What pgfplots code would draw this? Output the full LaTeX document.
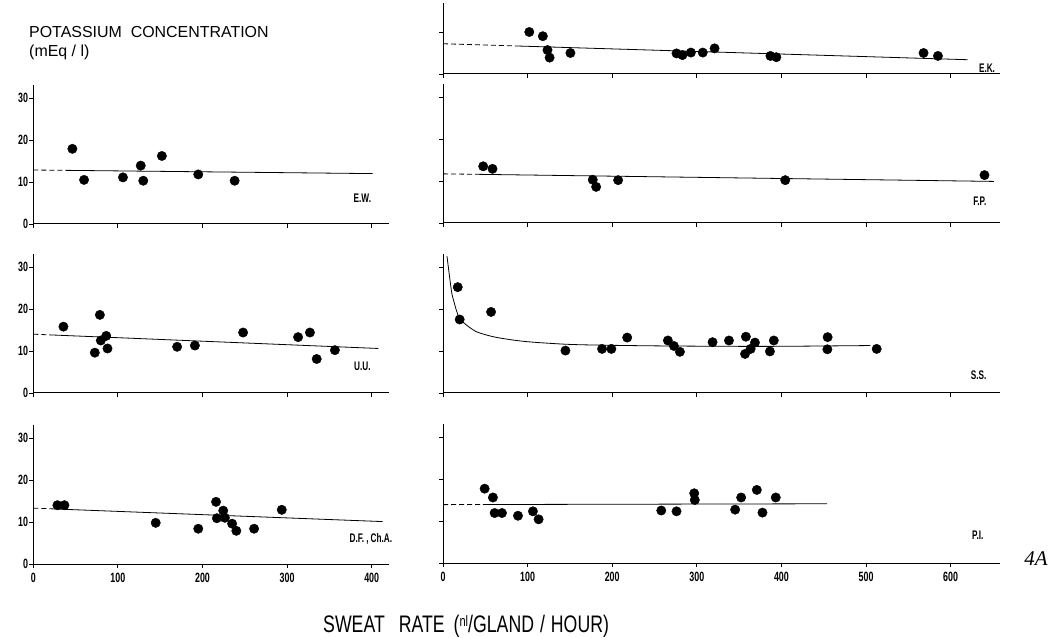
\documentclass[border=0pt]{standalone}
\usepackage{pgfplots}
\pgfplotsset{compat=1.18}
\usepackage{fontspec}
\setmainfont{Liberation Sans}
\newfontfamily\condf[FakeStretch=0.66]{Liberation Sans}
\newfontfamily\condw[FakeStretch=0.74]{Liberation Sans}
\newfontfamily\titlef{Liberation Sans}
\newfontfamily\serifi{Liberation Serif}

\tikzset{
  lab/.style={font=\condf\bfseries\fontsize{12.5}{12.5}\selectfont},
  fitl/.style={black, line width=0.8bp},
  fitdl/.style={black, line width=0.8bp, dash pattern=on 5bp off 3bp},
}
\pgfplotsset{
  panel/.style={
    scale only axis, clip=false,
    axis x line=bottom, axis y line=left,
    axis line style={-, line width=1bp, black},
    xmin=0, ymin=0, ymax=33,
    height=138.6bp,
    ytick={0,10,20,30},
    tick align=outside, major tick length=4bp,
    tick style={black, line width=0.8bp},
    /pgf/number format/assume math mode=true,
    ticklabel style={font=\condf\bfseries\fontsize{13.5}{13.5}\selectfont, inner sep=1bp},
    xticklabel style={yshift=-4bp},
  },
  leftcol/.style={panel, xmin=0, xmax=420, width=355.3bp, xtick={0,100,200,300,400}},
  rightcol/.style={panel, xmin=0, xmax=658, width=556.7bp, xtick={0,100,200,300,400,500,600}, yticklabels={}},
  nox/.style={xticklabels={}},
  pts/.style={only marks, mark=*, mark size=4.7bp, black},
}

\begin{document}
\begin{tikzpicture}
\path[use as bounding box] (0,0) rectangle (1053bp,638bp);

\node[anchor=base west, font=\titlef\fontsize{16}{16}\selectfont, inner sep=0pt] at (29bp,600.7bp) {POTASSIUM\ \ CONCENTRATION};
\node[anchor=base west, font=\titlef\fontsize{16}{16}\selectfont, inner sep=0pt] at (29bp,581.3bp) {(mEq / l)};

% ---------- E.W.
\begin{axis}[leftcol, nox, at={(33.3bp,414bp)}, anchor=south west]
\addplot[fitdl, no marks] coordinates {(0,12.85) (40,12.77)};
\addplot[fitl, no marks] coordinates {(40,12.77) (401,12.0)};
\addplot[pts] coordinates {(46.2,17.9) (60,10.5) (106,11.1) (127,13.9) (130,10.3) (152,16.2) (195,11.8) (238,10.3)};
\node[lab] at (axis cs:389,6.1) {E.W.};
\end{axis}

% ---------- U.U.
\begin{axis}[leftcol, nox, at={(33.3bp,245bp)}, anchor=south west]
\addplot[fitdl, no marks] coordinates {(0,14.0) (24,13.8)};
\addplot[fitl, no marks] coordinates {(24,13.8) (408,10.6)};
\addplot[pts] coordinates {(35.6,15.8) (72.7,9.6) (78.7,18.6) (79.8,12.5) (86.2,13.6) (87.7,10.6) (170,11.0) (191,11.3) (248,14.4) (313,13.3) (327,14.4) (335,8.1) (356.5,10.2)};
\node[lab] at (axis cs:389,6.3) {U.U.};
\end{axis}

% ---------- D.F., Ch.A.
\begin{axis}[leftcol, at={(33.3bp,74bp)}, anchor=south west]
\addplot[fitdl, no marks] coordinates {(0,13.3) (22,13.13)};
\addplot[fitl, no marks] coordinates {(22,13.13) (413,10.1)};
\addplot[pts] coordinates {(28.5,14.0) (36.8,14.0) (144.7,9.8) (195,8.4) (216,14.8) (217,10.9) (224.5,12.7) (226.5,11.0) (235,9.6) (240,7.9) (261,8.4) (293.7,12.9)};
\node[lab] at (axis cs:399,6.0) {D.F.\,,\,Ch.A.};
\end{axis}

% ---------- E.K.
\begin{axis}[rightcol, nox, at={(443bp,564bp)}, anchor=south west, ymax=17, height=71.4bp, ytick={0,10}]
\addplot[fitdl, no marks] coordinates {(0,7.2) (87,6.67)};
\addplot[fitl, no marks] coordinates {(87,6.67) (620,3.4)};
\addplot[pts] coordinates {(102,10.0) (118,9.0) (123.5,5.7) (126,3.9) (150.6,5.0) (276,4.9) (283,4.5) (293,5.1) (307,5.1) (321,6.1) (387,4.3) (394,4.0) (568,5.0) (585,4.3)};
\node[lab] at (axis cs:643,1.4) {E.K.};
\end{axis}

% ---------- F.P.
\begin{axis}[rightcol, nox, at={(443bp,415bp)}, anchor=south west]
\addplot[fitdl, no marks] coordinates {(0,11.7) (44,11.58)};
\addplot[fitl, no marks] coordinates {(44,11.58) (651,9.9)};
\addplot[pts] coordinates {(47.5,13.5) (58.5,12.9) (177,10.3) (181,8.6) (207,10.2) (404.5,10.2) (640,11.4)};
\node[lab] at (axis cs:634.5,5.2) {F.P.};
\end{axis}

% ---------- S.S.
\begin{axis}[rightcol, nox, at={(443bp,245bp)}, anchor=south west]
\addplot[fitl, no marks, smooth] coordinates {(4.7,32.6) (9.9,24.4) (12.6,22.0) (15.8,19.7) (19.7,17.7) (27.6,16.2) (39.4,14.6) (55.2,13.6) (67,13.1) (86.8,12.5) (106.5,12.1) (146,11.6) (185,11.4) (264,11.2) (382,11.1) (505,11.3)};
\addplot[pts] coordinates {(17.4,25.2) (19.7,17.5) (56.8,19.3) (144.7,10.1) (188,10.5) (199,10.5) (217.7,13.2) (265.8,12.5) (272.9,11.2) (280,9.8) (318.6,12.1) (338,12.5) (358,13.4) (357,9.3) (363.6,10.5) (368.7,12.0) (386.4,9.9) (391,12.5) (454.6,13.3) (454.3,10.4) (512.6,10.5)};
\node[lab] at (axis cs:633,4.3) {S.S.};
\end{axis}

% ---------- P.I.
\begin{axis}[rightcol, at={(443bp,75bp)}, anchor=south west]
\addplot[fitdl, no marks] coordinates {(0,13.9) (47,13.92)};
\addplot[fitl, no marks] coordinates {(47,13.92) (454,14.1)};
\addplot[pts] coordinates {(49.2,17.7) (59,15.6) (61,11.9) (69.7,11.9) (88.6,11.25) (106.3,12.3) (113,10.4) (258,12.5) (276,12.3) (296.9,16.6) (297.6,15.0) (345.3,12.7) (352.4,15.6) (370.9,17.4) (377.6,12.0) (393.3,15.6)};
\node[lab] at (axis cs:632,6.5) {P.I.};
\node[font=\serifi\itshape\fontsize{21}{21}\selectfont] at (axis cs:701,1.0) {4A};
\end{axis}

\node[anchor=base west, font=\condw\fontsize{24}{24}\selectfont, inner sep=0pt] at (323bp,5.3bp) {SWEAT\hspace{14bp}RATE\hspace{9bp}(\raisebox{6bp}{\fontsize{15}{15}\selectfont nl}/GLAND\hspace{6bp}/\hspace{6bp}HOUR)};
\end{tikzpicture}
\end{document}
